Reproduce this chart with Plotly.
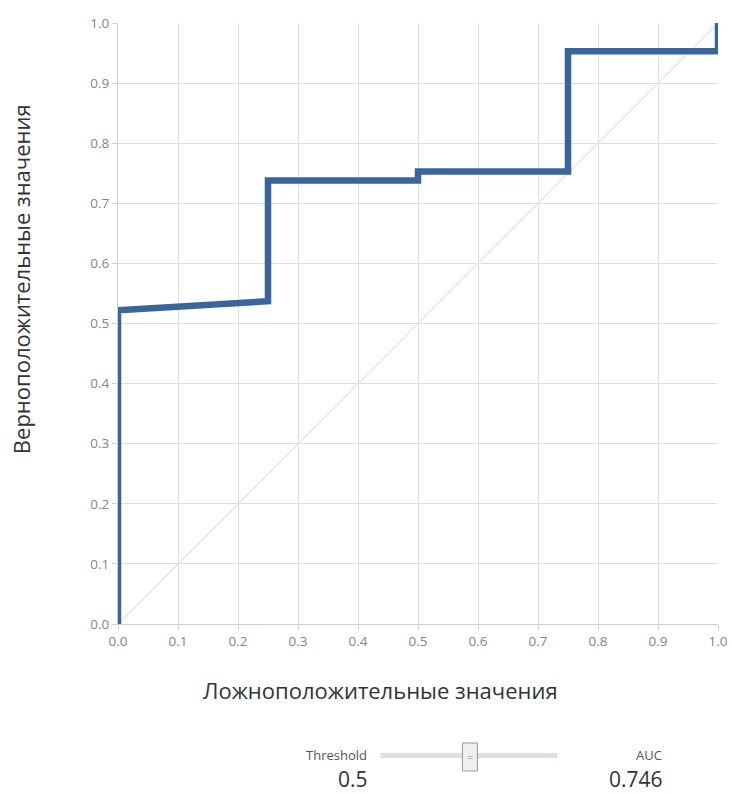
import plotly.graph_objects as go

fpr = [0.0, 0.0, 0.25, 0.25, 0.5, 0.5, 0.75, 0.75, 1.0, 1.0]
tpr = [0.0, 0.522, 0.537, 0.738, 0.738, 0.753, 0.753, 0.953, 0.953, 1.0]
diag_x = [0.0, 1.0]
diag_y = [0.0, 1.0]
tick_vals = [round(i * 0.1, 1) for i in range(11)]
tick_text = [f"{v:.1f}" for v in tick_vals]
x_title = "Ложноположительные значения"
y_title = "Верноположительные значения"
threshold = 0.5
auc = 0.746

# reference layout in pixels (732 x 794)
RW, H = 732, 794
L, R, T, B = 117, 14, 23, 170
pw, ph = RW - L - R, H - T - B

# the page is rendered a little wider and then fitted to 732 px
SX = 740 / 732
W = round(RW * SX)

def px(x):
    return (x - L) / pw

def py(y):
    return (H - B - y) / ph

fig = go.Figure()
fig.add_trace(go.Scatter(x=diag_x, y=diag_y, mode="lines",
                         line=dict(color="#e6e6e6", width=1.5),
                         hoverinfo="skip", showlegend=False))
fig.add_trace(go.Scatter(x=fpr, y=tpr, mode="lines",
                         line=dict(color="#3a659b", width=6.5),
                         showlegend=False))

axis_common = dict(range=[0, 1], tickvals=tick_vals, ticktext=tick_text,
                   showgrid=True, gridcolor="#dedede", gridwidth=1,
                   showline=True, linecolor="#d0d0d0", linewidth=1,
                   ticks="outside", ticklen=5, tickcolor="#d0d0d0",
                   tickfont=dict(family="Open Sans", size=13.5, color="#858585"),
                   zeroline=False, fixedrange=True)

fig.update_xaxes(**axis_common)
fig.update_yaxes(**axis_common)

title_font = dict(family="Open Sans", size=22, color="#333333")
ann = []
ann.append(dict(text=x_title, x=px(380), y=py(690), xref="paper", yref="paper",
                showarrow=False, font=title_font,
                xanchor="center", yanchor="middle"))
ann.append(dict(text=y_title, x=px(20), y=py(279), xref="paper", yref="paper",
                showarrow=False, textangle=-90, font=title_font,
                xanchor="center", yanchor="middle"))
ann.append(dict(text="Threshold", x=px(368), y=py(755), xref="paper", yref="paper",
                showarrow=False, font=dict(family="Open Sans", size=13, color="#555555"),
                xanchor="right", yanchor="middle"))
ann.append(dict(text=f"{threshold}", x=px(352), y=py(779), xref="paper", yref="paper",
                showarrow=False, font=dict(family="Open Sans", size=21, color="#333333"),
                xanchor="center", yanchor="middle", borderpad=0))
ann.append(dict(text="AUC", x=px(664), y=py(755), xref="paper", yref="paper",
                showarrow=False, font=dict(family="Open Sans", size=13, color="#555555"),
                xanchor="right", yanchor="middle"))
ann.append(dict(text=f"{auc}", x=px(664), y=py(779), xref="paper", yref="paper",
                showarrow=False, font=dict(family="Open Sans", size=21, color="#333333"),
                xanchor="right", yanchor="middle", borderpad=0))
ann.append(dict(text="=", x=px(469.5), y=py(756), xref="paper", yref="paper",
                showarrow=False, font=dict(family="Open Sans", size=11, color="#888888"),
                xanchor="center", yanchor="middle"))

shapes = []
shapes.append(dict(type="line", xref="paper", yref="paper",
                   x0=px(380), x1=px(557), y0=py(755.5), y1=py(755.5),
                   line=dict(color="#e3ded8", width=5)))
shapes.append(dict(type="rect", xref="paper", yref="paper",
                   x0=px(462), x1=px(477), y0=py(743), y1=py(771),
                   fillcolor="#efefef", line=dict(color="#999999", width=1)))

fig.update_layout(width=W, height=H,
                  margin=dict(l=L * SX, r=R * SX, t=T, b=B),
                  plot_bgcolor="white", paper_bgcolor="white",
                  annotations=ann, shapes=shapes, showlegend=False)

fig.write_html("out.html",
               config={"displayModeBar": False, "responsive": False},
               post_script="document.body.style.margin='0';document.body.style.overflow='hidden';")
